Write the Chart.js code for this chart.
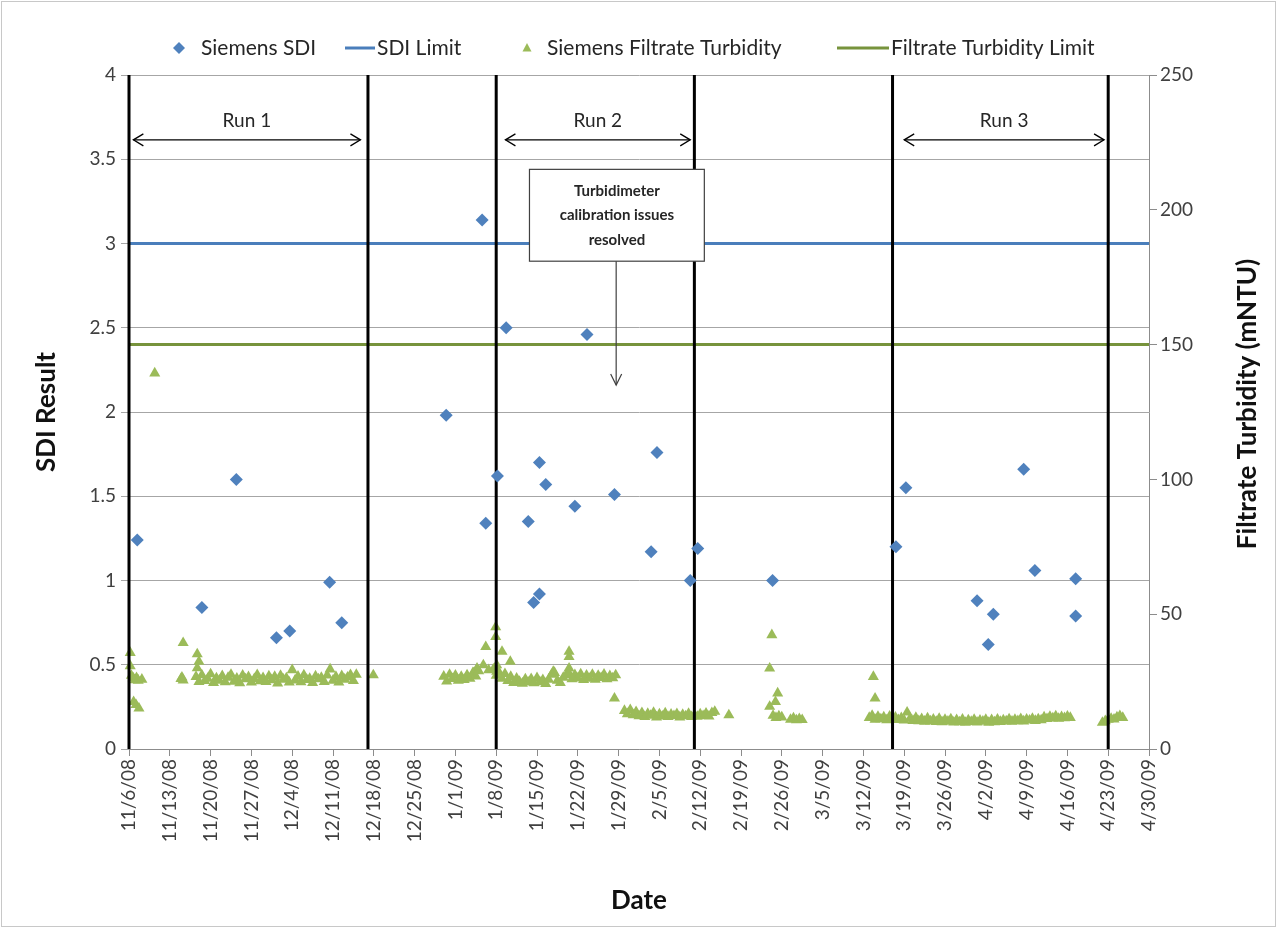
<!DOCTYPE html>
<html>
<head>
<meta charset="utf-8">
<title>Siemens SDI and Filtrate Turbidity</title>
<script src="https://cdn.jsdelivr.net/npm/chart.js@4.4.1/dist/chart.umd.min.js"></script>
<style>
  html, body { margin: 0; padding: 0; background: #ffffff; }
  #wrap { width: 1277px; height: 928px; }
</style>
</head>
<body>
<div id="wrap"><canvas id="chart" width="1277" height="928"></canvas></div>
<script>
// ---- weekly date ticks ----
const tickLabels = ['11/6/08', '11/13/08', '11/20/08', '11/27/08', '12/4/08', '12/11/08', '12/18/08',
  '12/25/08', '1/1/09', '1/8/09', '1/15/09', '1/22/09', '1/29/09', '2/5/09', '2/12/09', '2/19/09',
  '2/26/09', '3/5/09', '3/12/09', '3/19/09', '3/26/09', '4/2/09', '4/9/09', '4/16/09', '4/23/09', '4/30/09'];

// ---- Siemens SDI samples ----
const sdiTimes = ['2008-11-07 10:00', '2008-11-18 12:00', '2008-11-24 10:00', '2008-12-01 07:00',
  '2008-12-03 14:00', '2008-12-10 10:00', '2008-12-12 12:00', '2008-12-30 10:00', '2009-01-05 14:00',
  '2009-01-06 05:00', '2009-01-08 05:00', '2009-01-09 17:00', '2009-01-13 12:00', '2009-01-14 10:00',
  '2009-01-15 10:00', '2009-01-15 10:00', '2009-01-16 12:00', '2009-01-21 12:00', '2009-01-23 14:00',
  '2009-01-28 07:00', '2009-02-03 14:00', '2009-02-04 14:00', '2009-02-10 07:00', '2009-02-11 14:00',
  '2009-02-24 10:00', '2009-03-17 14:00', '2009-03-19 07:00', '2009-03-31 12:00', '2009-04-02 10:00',
  '2009-04-03 07:00', '2009-04-08 12:00', '2009-04-10 10:00', '2009-04-17 10:00', '2009-04-17 10:00'];
const sdiValues = [1.24, 0.84, 1.60, 0.66, 0.70, 0.99, 0.75, 1.98, 3.14,
  1.34, 1.62, 2.50, 1.35, 0.87, 0.92, 1.70, 1.57, 1.44, 2.46,
  1.51, 1.17, 1.76, 1.00, 1.19, 1.00, 1.20, 1.55, 0.88, 0.62,
  0.80, 1.66, 1.06, 1.01, 0.79];

// ---- limits ----
const sdiLimit = 3;            // SDI
const turbidityLimit = 150;    // mNTU

// ---- Siemens filtrate turbidity (mNTU): isolated readings ----
const turbSpotTimes = ['2008-11-06 05:00', '2008-11-06 05:00', '2008-11-06 10:00', '2008-11-06 17:00',
  '2008-11-07 00:00', '2008-11-07 07:00', '2008-11-07 14:00', '2008-11-08 05:00', '2008-11-06 19:00',
  '2008-11-07 05:00', '2008-11-07 17:00', '2008-11-10 10:00', '2008-11-14 22:00', '2008-11-15 02:00',
  '2008-11-15 07:00', '2008-11-15 07:00', '2008-11-17 17:00', '2008-11-17 17:00', '2008-11-18 00:00',
  '2008-12-17 22:00', '2009-01-04 02:00', '2009-01-04 17:00', '2009-01-05 19:00', '2009-01-06 05:00',
  '2009-01-06 17:00', '2009-01-07 22:00', '2009-01-07 22:00', '2009-01-08 02:00', '2009-01-08 02:00',
  '2009-01-09 00:00', '2009-01-10 10:00', '2009-01-17 19:00', '2009-01-20 12:00', '2009-01-20 12:00',
  '2009-01-20 12:00', '2009-01-28 07:00', '2009-02-16 22:00', '2009-02-23 22:00', '2009-02-24 07:00',
  '2009-02-23 22:00', '2009-02-24 22:00', '2009-02-25 07:00', '2009-03-13 17:00', '2009-03-14 00:00'];
const turbSpotValues = [35.7, 30.8, 27.2, 26.3,
  25.6, 26.4, 25.4, 25.8, 17.5,
  16.4, 15.1, 139.4, 26.0, 26.6,
  25.5, 39.4, 35.2, 30.0, 32.4,
  27.4, 28.1, 29.9, 31.1, 37.9,
  29.3, 45.2, 41.6, 31.1, 28.7,
  36.1, 32.4, 28.7, 36.1, 34.2,
  29.9, 18.8, 12.6, 29.9, 42.3,
  15.7, 17.5, 20.7, 26.8, 18.8];

// ---- Siemens filtrate turbidity (mNTU): continuous logging, one reading every 12 h ----
const loggerStepHours = 12;
const turbRun1Start = '2008-11-17 12:00';
const turbRun1 = [26.8, 24.9, 27.4, 25.3, 26.1, 27.8, 24.6, 26.3, 25.4, 27.1,
  24.8, 26.5, 27.6, 25.0, 26.2, 24.5, 27.3, 25.9, 26.7, 24.7,
  26.0, 27.5, 25.2, 26.4, 24.9, 27.0, 25.6, 26.8, 24.4, 27.2,
  25.8, 26.3, 24.7, 29.3, 25.5, 26.9, 24.8, 27.4, 25.7, 26.1,
  24.6, 27.0, 25.9, 26.5, 24.9, 27.3, 29.6, 25.4, 26.8, 24.7,
  27.1, 25.8, 26.6, 27.5, 25.3, 27.6];
const turbDecStart = '2008-12-30 00:00';
const turbDec = [26.9, 25.1, 27.6, 26.0, 27.3, 25.4, 26.8, 25.7, 27.4, 26.1, 28.2, 27.0, 28.9];
const turbRun2Start = '2009-01-07 12:00';
const turbRun2 = [29.5, 27.2, 28.4, 26.1, 27.9, 25.3, 26.8, 24.6, 26.2, 25.0,
  24.3, 25.9, 24.7, 26.0, 24.5, 26.4, 24.8, 25.6, 24.2, 25.8,
  27.6, 28.3, 25.4, 24.6, 26.5, 27.4, 28.0, 25.9, 27.5, 26.2,
  27.8, 25.7, 27.3, 26.1, 27.6, 25.8, 27.2, 26.4, 27.7, 25.9,
  27.1, 26.3, 27.4];
const turbFebStart = '2009-01-30 00:00';
const turbFeb = [14.2, 13.0, 14.5, 12.6, 13.8, 12.2, 13.4, 11.9, 13.1, 12.4,
  13.5, 11.8, 12.9, 12.1, 13.3, 11.9, 12.8, 12.3, 13.0, 11.8,
  12.7, 12.2, 13.1, 11.9, 12.6, 12.0, 12.9, 12.3, 13.2, 12.1,
  13.4, 13.9];
const turbLateFebStart = '2009-02-24 12:00';
const turbLateFeb = [12.4, 11.6, 12.2, 11.8];
const turbFebEndStart = '2009-02-27 12:00';
const turbFebEnd = [10.9, 11.4, 10.7, 11.2, 10.8];
const turbRun3Start = '2009-03-13 00:00';
const turbRun3 = [11.6, 12.4, 10.9, 12.0, 11.1, 11.8, 10.7, 12.1, 11.2, 11.7,
  10.8, 11.5, 10.6, 13.6, 11.3, 10.5, 11.6, 10.4, 11.2, 10.2,
  11.4, 10.3, 11.0, 10.1, 11.3, 10.0, 10.9, 10.2, 11.1, 9.9,
  10.8, 10.0, 11.0, 9.8, 10.7, 10.1, 10.9, 9.9, 10.6, 10.2,
  10.9, 9.8, 10.8, 10.0, 11.0, 10.1, 10.7, 10.3, 11.1, 10.2,
  10.9, 10.4, 11.2, 10.3, 11.0, 10.6, 11.3, 10.5, 11.1, 10.7,
  11.8, 11.2, 12.0, 11.4, 12.2, 11.3, 11.9, 11.5, 12.1, 11.6];
const turbAprStart = '2009-04-22 00:00';
const turbApr = [9.8, 10.4, 10.9, 11.3, 11.0, 11.8, 12.3, 11.6];

// ---- run boundaries and run spans ----
const runBoundaries = ['2008-11-06 00:00', '2008-12-17 00:00', '2009-01-08 00:00',
  '2009-02-11 00:00', '2009-03-17 00:00', '2009-04-23 00:00'];
const runNames = ['Run 1', 'Run 2', 'Run 3'];
const runStarts = ['2008-11-06 18:00', '2009-01-09 14:00', '2009-03-19 00:00'];
const runEnds = ['2008-12-15 17:00', '2009-02-10 07:00', '2009-04-22 07:00'];

// ---- callout ----
const noteLines = ['Turbidimeter', 'calibration issues', 'resolved'];
const noteFrom = '2009-01-13 17:00';
const noteTo = '2009-02-12 17:00';
const notePointsAt = '2009-01-28 14:00';

// ---------------------------------------------------------------
const HOUR = 3600 * 1000;
function toTime(s) {
  const [d, h] = s.split(' ');
  const [Y, M, D] = d.split('-').map(Number);
  const [hh, mm] = (h || '00:00').split(':').map(Number);
  return Date.UTC(Y, M - 1, D, hh, mm);
}
function tickTime(label) {
  const [m, d, y] = label.split('/').map(Number);
  return Date.UTC(2000 + y, m - 1, d);
}
function series(start, values) {
  const t0 = toTime(start);
  return values.map((v, i) => ({ x: t0 + i * loggerStepHours * HOUR, y: v }));
}

const tickTimes = tickLabels.map(tickTime);
const xMin = tickTimes[0];
const xMax = tickTimes[tickTimes.length - 1];

const sdiPoints = sdiTimes.map((t, i) => ({ x: toTime(t), y: sdiValues[i] }));
const turbPoints = [
  ...turbSpotTimes.map((t, i) => ({ x: toTime(t), y: turbSpotValues[i] })),
  ...series(turbRun1Start, turbRun1),
  ...series(turbDecStart, turbDec),
  ...series(turbRun2Start, turbRun2),
  ...series(turbFebStart, turbFeb),
  ...series(turbLateFebStart, turbLateFeb),
  ...series(turbFebEndStart, turbFebEnd),
  ...series(turbRun3Start, turbRun3),
  ...series(turbAprStart, turbApr)
];
const boundaryPoints = [];
runBoundaries.forEach(s => {
  const t = toTime(s);
  boundaryPoints.push({ x: t, y: 0 }, { x: t, y: 4 }, { x: t, y: null });
});

const BLUE = '#4F81BD';
const BLUE_LINE = '#4A7EBB';
const GREEN = '#9BBB59';
const GREEN_LINE = '#77933C';
const TEXT = '#262626';
const FONT = "Lato, 'Open Sans', sans-serif";

Chart.defaults.font.family = FONT;

// white page + light frame
const framePlugin = {
  id: 'frame',
  beforeDraw(chart) {
    const ctx = chart.ctx;
    ctx.save();
    ctx.fillStyle = '#ffffff';
    ctx.fillRect(0, 0, chart.width, chart.height);
    ctx.restore();
  },
  afterDraw(chart) {
    const ctx = chart.ctx;
    ctx.save();
    ctx.strokeStyle = '#c8c8c8';
    ctx.lineWidth = 1;
    ctx.strokeRect(1.5, 1.5, chart.width - 3, chart.height - 3);
    ctx.restore();
  }
};

// legend across the top
const legendPlugin = {
  id: 'topLegend',
  afterDraw(chart) {
    const ctx = chart.ctx;
    const ds = chart.data.datasets;
    const y = 48;
    ctx.save();
    ctx.font = '21px ' + FONT;
    ctx.textBaseline = 'middle';
    ctx.textAlign = 'left';
    // diamond
    ctx.fillStyle = ds[0].pointBackgroundColor;
    ctx.beginPath();
    ctx.moveTo(179, y - 6); ctx.lineTo(185, y); ctx.lineTo(179, y + 6); ctx.lineTo(173, y);
    ctx.closePath(); ctx.fill();
    ctx.fillStyle = TEXT;
    ctx.fillText(ds[0].label, 201, y);
    // SDI limit line
    ctx.strokeStyle = ds[1].borderColor; ctx.lineWidth = 3;
    ctx.beginPath(); ctx.moveTo(345, y); ctx.lineTo(375, y); ctx.stroke();
    ctx.fillText(ds[1].label, 377, y);
    // triangle
    ctx.fillStyle = ds[2].pointBackgroundColor;
    ctx.beginPath();
    ctx.moveTo(527, y - 5); ctx.lineTo(531.5, y + 3.5); ctx.lineTo(522.5, y + 3.5);
    ctx.closePath(); ctx.fill();
    ctx.fillStyle = TEXT;
    ctx.fillText(ds[2].label, 547, y);
    // turbidity limit line
    ctx.strokeStyle = ds[3].borderColor; ctx.lineWidth = 3;
    ctx.beginPath(); ctx.moveTo(837, y); ctx.lineTo(889, y); ctx.stroke();
    ctx.fillText(ds[3].label, 891, y);
    ctx.restore();
  }
};

function arrowHead(ctx, x, y, dx, dy, len, half) {
  // open chevron pointing along (dx, dy)
  const px = -dy, py = dx;
  ctx.beginPath();
  ctx.moveTo(x - dx * len + px * half, y - dy * len + py * half);
  ctx.lineTo(x, y);
  ctx.lineTo(x - dx * len - px * half, y - dy * len - py * half);
  ctx.stroke();
}

// run spans, callout and right axis title
const annotationPlugin = {
  id: 'runNotes',
  afterDatasetsDraw(chart) {
    const ctx = chart.ctx;
    const xs = chart.scales.x, ys = chart.scales.y;
    ctx.save();
    // run spans
    ctx.strokeStyle = '#000000';
    ctx.lineWidth = 1.3;
    ctx.fillStyle = TEXT;
    ctx.font = '19px ' + FONT;
    ctx.textAlign = 'center';
    ctx.textBaseline = 'middle';
    runNames.forEach((name, i) => {
      const x1 = xs.getPixelForValue(toTime(runStarts[i]));
      const x2 = xs.getPixelForValue(toTime(runEnds[i]));
      const y = ys.getPixelForValue(3.615);
      ctx.beginPath(); ctx.moveTo(x1, y); ctx.lineTo(x2, y); ctx.stroke();
      arrowHead(ctx, x1, y, -1, 0, 10, 6);
      arrowHead(ctx, x2, y, 1, 0, 10, 6);
      ctx.fillText(name, (x1 + x2) / 2, ys.getPixelForValue(3.73));
    });
    // callout box
    const bx1 = xs.getPixelForValue(toTime(noteFrom));
    const bx2 = xs.getPixelForValue(toTime(noteTo));
    const by1 = ys.getPixelForValue(3.44);
    const by2 = ys.getPixelForValue(2.895);
    ctx.fillStyle = '#ffffff';
    ctx.fillRect(bx1, by1, bx2 - bx1, by2 - by1);
    ctx.strokeStyle = '#404040';
    ctx.lineWidth = 1.2;
    ctx.strokeRect(bx1, by1, bx2 - bx1, by2 - by1);
    ctx.fillStyle = TEXT;
    ctx.font = 'bold 15px ' + FONT;
    const cx = (bx1 + bx2) / 2;
    const lineGap = 24.5;
    const cy = (by1 + by2) / 2;
    noteLines.forEach((t, i) => ctx.fillText(t, cx, cy + (i - 1) * lineGap));
    // callout pointer
    const ax = xs.getPixelForValue(toTime(notePointsAt));
    const ay = ys.getPixelForValue(2.16);
    ctx.strokeStyle = '#404040';
    ctx.lineWidth = 1.2;
    ctx.beginPath(); ctx.moveTo(ax, by2); ctx.lineTo(ax, ay); ctx.stroke();
    arrowHead(ctx, ax, ay, 0, 1, 11, 5.5);
    // right axis title, reading bottom to top
    const yr = chart.scales.y2;
    ctx.translate(yr.right - 29, (yr.top + yr.bottom) / 2 - 8);
    ctx.rotate(-Math.PI / 2);
    ctx.font = 'bold 26px ' + FONT;
    ctx.fillStyle = '#111111';
    ctx.fillText('Filtrate Turbidity (mNTU)', 0, 0);
    ctx.restore();
  }
};

const tickFont = { size: 19, family: FONT };
const tickColor = '#404040';
const gridGray = '#a6a6a6';
const axisGray = '#8c8c8c';

new Chart(document.getElementById('chart'), {
  type: 'scatter',
  data: {
    datasets: [
      {
        label: 'Siemens SDI',
        data: sdiPoints,
        yAxisID: 'y',
        pointStyle: 'rectRot',
        pointRadius: 6.5,
        pointBackgroundColor: BLUE,
        pointBorderColor: BLUE,
        pointBorderWidth: 0,
        clip: false,
        order: 0
      },
      {
        label: 'SDI Limit',
        data: [{ x: xMin, y: sdiLimit }, { x: xMax, y: sdiLimit }],
        yAxisID: 'y',
        showLine: true,
        pointRadius: 0,
        borderColor: BLUE_LINE,
        borderWidth: 3,
        clip: false,
        order: 2
      },
      {
        label: 'Siemens Filtrate Turbidity',
        data: turbPoints,
        yAxisID: 'y2',
        pointStyle: 'triangle',
        pointRadius: 6.4,
        pointBackgroundColor: GREEN,
        pointBorderColor: GREEN,
        pointBorderWidth: 0,
        clip: false,
        order: 3
      },
      {
        label: 'Filtrate Turbidity Limit',
        data: [{ x: xMin, y: turbidityLimit }, { x: xMax, y: turbidityLimit }],
        yAxisID: 'y2',
        showLine: true,
        pointRadius: 0,
        borderColor: GREEN_LINE,
        borderWidth: 3,
        clip: false,
        order: 2
      },
      {
        label: 'Run boundaries',
        data: boundaryPoints,
        yAxisID: 'y',
        showLine: true,
        spanGaps: false,
        pointRadius: 0,
        borderColor: '#000000',
        borderWidth: 3,
        clip: false,
        order: 1
      }
    ]
  },
  options: {
    responsive: false,
    devicePixelRatio: 1,
    animation: false,
    events: [],
    layout: { padding: { top: 75, left: 0, right: 0, bottom: 0 } },
    plugins: {
      legend: { display: false },
      tooltip: { enabled: false }
    },
    scales: {
      x: {
        type: 'linear',
        min: xMin,
        max: xMax,
        afterBuildTicks(scale) { scale.ticks = tickTimes.map(v => ({ value: v })); },
        afterFit(scale) { scale.height = 179; },
        ticks: {
          callback: (value, index) => tickLabels[index],
          autoSkip: false,
          minRotation: 90,
          maxRotation: 90,
          padding: 3,
          font: tickFont,
          color: tickColor
        },
        grid: { drawOnChartArea: false, drawTicks: true, tickLength: 7, color: axisGray },
        border: { display: true, color: axisGray, width: 1 },
        title: {
          display: true,
          text: 'Date',
          color: '#111111',
          font: { size: 26, weight: 'bold', family: FONT },
          padding: { top: 0, bottom: 12 }
        }
      },
      y: {
        position: 'left',
        min: 0,
        max: 4,
        afterFit(scale) { scale.width = 129; },
        ticks: {
          stepSize: 0.5,
          padding: 5,
          font: tickFont,
          color: tickColor,
          callback: value => String(Math.round(value * 10) / 10)
        },
        grid: { color: gridGray, lineWidth: 1, tickLength: 8 },
        border: { display: true, color: axisGray, width: 1 },
        title: {
          display: true,
          text: 'SDI Result',
          color: '#111111',
          font: { size: 26, weight: 'bold', family: FONT },
          padding: { top: 31, bottom: 0 }
        }
      },
      y2: {
        position: 'right',
        min: 0,
        max: 250,
        afterFit(scale) { scale.width = 128; },
        ticks: { stepSize: 50, padding: 3, font: tickFont, color: tickColor },
        grid: { drawOnChartArea: false, tickLength: 8, color: axisGray },
        border: { display: true, color: axisGray, width: 1 }
      }
    }
  },
  plugins: [framePlugin, legendPlugin, annotationPlugin]
});
</script>
</body>
</html>
